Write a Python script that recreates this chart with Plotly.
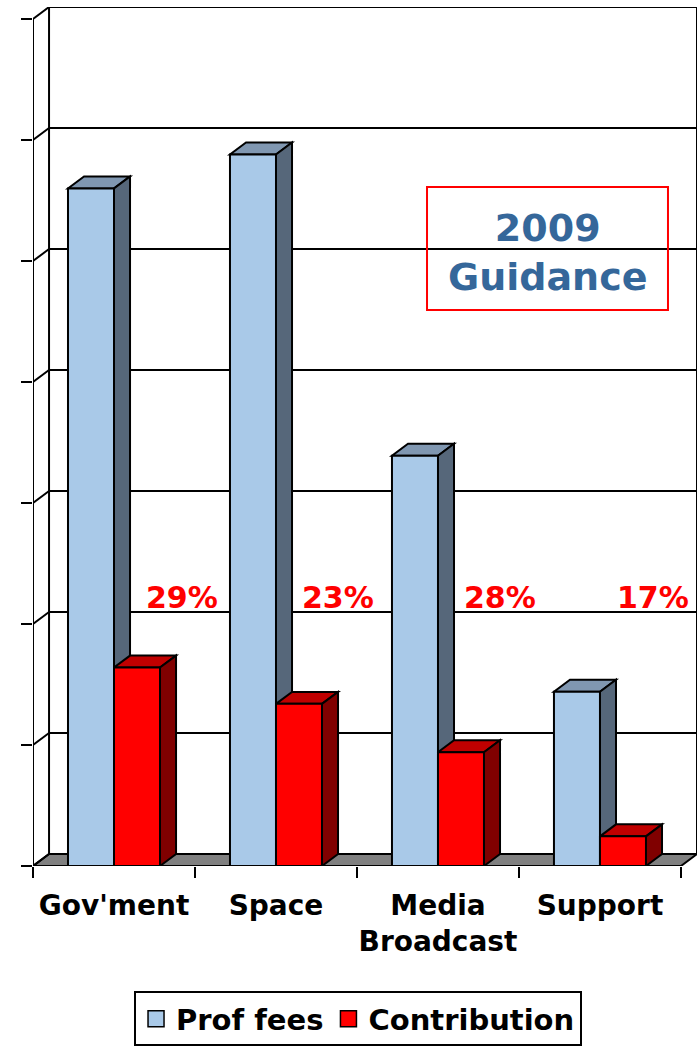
import plotly.graph_objects as go

# ---------------- data ----------------
categories = ["Gov'ment", "Space", "Media<br>Broadcast", "Support"]
prof_fees = [5.60, 5.88, 3.39, 1.44]
contribution = [1.64, 1.34, 0.94, 0.245]
contribution_pct_labels = ["29%", "23%", "28%", "17%"]
y_tick_values = [0, 1, 2, 3, 4, 5, 6, 7]
series_names = ["Prof fees", "Contribution"]
guidance_text = "2009<br>Guidance"

# ---------------- style constants ----------------
BAR_W = 0.284          # width of one bar (category units)
DX = 0.099             # 3D depth offset, x (category units)
DY = 0.099             # 3D depth offset, y (value units)
PCT_LABEL_DX = [0.42, 0.38, 0.38, 0.33]
PCT_LABEL_Y = 2.22
FONT = "DejaVu Sans"

PROF_FRONT, PROF_TOP, PROF_SIDE = "#A9C9E8", "#8097B1", "#56677A"
CON_FRONT, CON_TOP, CON_SIDE = "#FF0000", "#C00000", "#800000"
FLOOR = "#808080"
EDGE = dict(color="black", width=2)

n = len(categories)
x_idx = list(range(n))
x_lo, x_hi = -0.5, n - 0.5
y_top = max(y_tick_values)

fig = go.Figure()
fig.add_trace(go.Bar(x=x_idx, y=prof_fees, width=BAR_W, offset=-BAR_W,
                     name=series_names[0], showlegend=False,
                     marker=dict(color=PROF_FRONT, line=EDGE)))
fig.add_trace(go.Bar(x=x_idx, y=contribution, width=BAR_W, offset=0,
                     name=series_names[1], showlegend=False,
                     marker=dict(color=CON_FRONT, line=EDGE)))
# legend keys (square swatches like the original)
for name, col in zip(series_names, (PROF_FRONT, CON_FRONT)):
    fig.add_trace(go.Scatter(x=[None], y=[None], mode="markers", name=name,
                             marker=dict(symbol="square", size=18, color=col,
                                         line=dict(color="black", width=1.5))))


def poly(pts):
    return "M" + " L".join(f"{x},{y}" for x, y in pts) + " Z"


shapes = []
# floor
shapes.append(dict(type="path", xref="x", yref="y", layer="below",
                   path=poly([(x_lo, 0), (x_hi, 0), (x_hi + DX, DY), (x_lo + DX, DY)]),
                   fillcolor=FLOOR, line=EDGE))
# back wall gridlines + side wall diagonals
for v in y_tick_values:
    if v > 0:
        shapes.append(dict(type="line", xref="x", yref="y", layer="below",
                           x0=x_lo + DX, x1=x_hi + DX, y0=v + DY, y1=v + DY, line=EDGE))
    shapes.append(dict(type="line", xref="x", yref="y", layer="below",
                       x0=x_lo, x1=x_lo + DX, y0=v, y1=v + DY, line=EDGE))
# back wall verticals
for xv in (x_lo + DX, x_hi + DX):
    shapes.append(dict(type="line", xref="x", yref="y", layer="below",
                       x0=xv, x1=xv, y0=DY, y1=y_top + DY, line=EDGE))
# front value axis line
shapes.append(dict(type="line", xref="x", yref="y", layer="below",
                   x0=x_lo, x1=x_lo, y0=0, y1=y_top, line=EDGE))

# 3D faces of bars (top + side), in drawing order
for i in x_idx:
    for vals, off, top_c, side_c in ((prof_fees, -BAR_W, PROF_TOP, PROF_SIDE),
                                     (contribution, 0.0, CON_TOP, CON_SIDE)):
        v = vals[i]
        x0 = i + off
        x1 = x0 + BAR_W
        shapes.append(dict(type="path", xref="x", yref="y", layer="below",
                           path=poly([(x0, v), (x1, v), (x1 + DX, v + DY), (x0 + DX, v + DY)]),
                           fillcolor=top_c, line=EDGE))
        shapes.append(dict(type="path", xref="x", yref="y", layer="below",
                           path=poly([(x1, 0), (x1 + DX, DY), (x1 + DX, v + DY), (x1, v)]),
                           fillcolor=side_c, line=EDGE))

# guidance box
shapes.append(dict(type="rect", xref="paper", yref="paper", layer="above",
                   x0=0.5934, x1=0.9563, y0=0.6473, y1=0.7905,
                   line=dict(color="#FF0000", width=2), fillcolor="rgba(0,0,0,0)"))

annotations = [dict(xref="paper", yref="paper", x=0.7749, y=0.7142,
                    text=guidance_text, showarrow=False, xanchor="center", yanchor="middle",
                    font=dict(family=FONT, size=38, color="#35679A", weight="bold"))]
for i in x_idx:
    annotations.append(dict(xref="x", yref="y", x=i + PCT_LABEL_DX[i], y=PCT_LABEL_Y,
                            text=contribution_pct_labels[i], showarrow=False,
                            xanchor="center", yanchor="middle",
                            font=dict(family=FONT, size=30, color="#FF0000", weight="bold")))

fig.update_layout(
    width=697, height=1046,
    margin=dict(l=33, r=0, t=7, b=180, autoexpand=False),
    paper_bgcolor="white", plot_bgcolor="white",
    barmode="overlay",
    shapes=shapes, annotations=annotations,
    showlegend=True,
    legend=dict(orientation="h", x=0.4895, xanchor="center", y=-0.178, yanchor="middle",
                bordercolor="black", borderwidth=2, bgcolor="white",
                font=dict(family=FONT, size=29, color="black", weight="bold"),
                itemwidth=30, tracegroupgap=0, itemsizing="trace"),
    xaxis=dict(range=[x_lo, x_hi + DX], tickmode="array", tickvals=x_idx, ticktext=categories,
               ticks="", showgrid=False, zeroline=False, showline=False, automargin=False,
               ticklabelstandoff=20,
               tickfont=dict(family=FONT, size=28, color="black", weight="bold"),
               minor=dict(tickmode="array", tickvals=[x_lo + k for k in range(n + 1)],
                          ticks="outside", ticklen=11, tickwidth=2, tickcolor="black",
                          showgrid=False)),
    yaxis=dict(range=[0, y_top + DY], tickmode="array", tickvals=y_tick_values,
               ticks="outside", ticklen=11, tickwidth=2, tickcolor="black",
               showticklabels=False, showgrid=False, zeroline=False, showline=False,
               automargin=False),
)

fig.write_html("out.html", config={"displayModeBar": False},
               post_script="document.body.style.margin='0px';")
